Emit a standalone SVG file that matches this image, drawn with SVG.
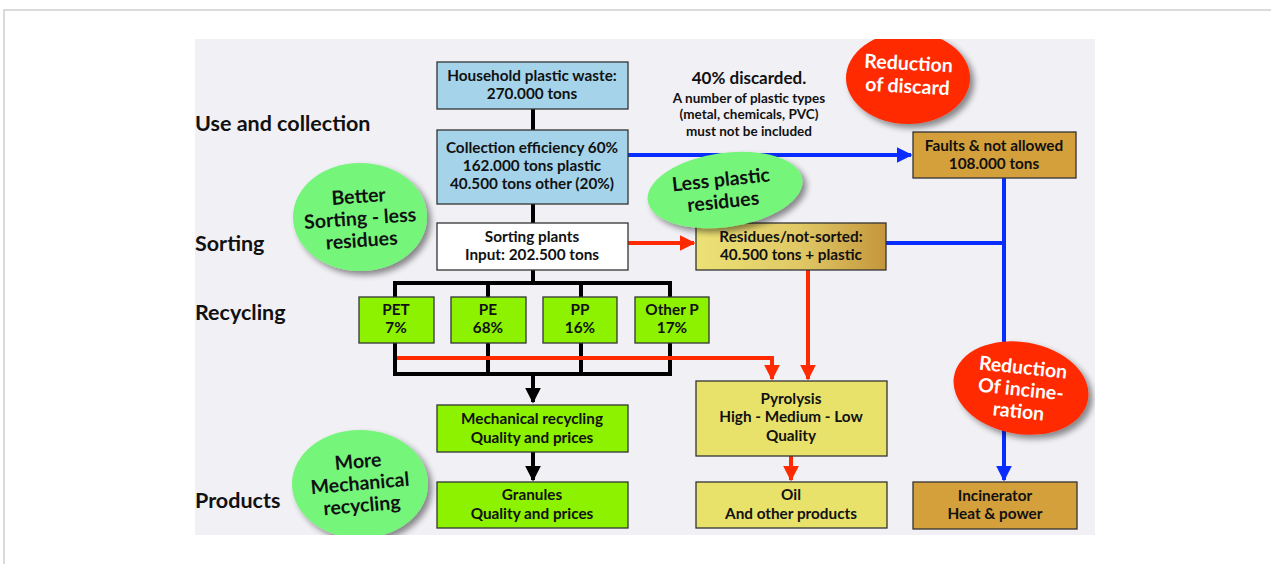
<svg xmlns="http://www.w3.org/2000/svg" width="1271" height="564" viewBox="0 0 1271 564">
<defs>
<style>
.box{stroke:#333;stroke-width:1.3}
.t{font-family:Lato,"Open Sans","Liberation Sans",sans-serif;font-weight:700;fill:#111;text-anchor:middle}
.bt{font-size:15.3px}
.lab{font-family:Lato,"Open Sans","Liberation Sans",sans-serif;font-weight:700;font-size:21.5px;fill:#111}
.blk{stroke:#000;stroke-width:4;fill:none}
.red{stroke:#ff2a00;stroke-width:4;fill:none}
.blu{stroke:#0a2dff;stroke-width:4;fill:none}
.et{font-family:Lato,"Open Sans","Liberation Sans",sans-serif;font-weight:700;font-size:19.5px;text-anchor:middle}
</style>
<linearGradient id="gres" x1="0" x2="1" y1="0" y2="0">
<stop offset="0" stop-color="#ece276"/>
<stop offset="0.55" stop-color="#e0c865"/>
<stop offset="1" stop-color="#c4963c"/>
</linearGradient>
<filter id="sh" x="-30%" y="-30%" width="160%" height="160%">
<feGaussianBlur in="SourceAlpha" stdDeviation="3"/>
<feOffset dx="4" dy="4"/>
<feComponentTransfer><feFuncA type="linear" slope="0.45"/></feComponentTransfer>
<feMerge><feMergeNode/><feMergeNode in="SourceGraphic"/></feMerge>
</filter>
<clipPath id="panel"><rect x="195" y="39" width="900" height="496"/></clipPath>
<marker id="ab" viewBox="0 0 10 10" refX="9" refY="5" markerWidth="4" markerHeight="4" orient="auto" markerUnits="strokeWidth"><path d="M0,0L10,5L0,10z" fill="#000"/></marker>
<marker id="ar" viewBox="0 0 10 10" refX="9" refY="5" markerWidth="4" markerHeight="4" orient="auto" markerUnits="strokeWidth"><path d="M0,0L10,5L0,10z" fill="#ff2a00"/></marker>
<marker id="au" viewBox="0 0 10 10" refX="9" refY="5" markerWidth="4" markerHeight="4" orient="auto" markerUnits="strokeWidth"><path d="M0,0L10,5L0,10z" fill="#0a2dff"/></marker>
</defs>
<rect x="0" y="0" width="1271" height="564" fill="#fff"/>
<path d="M4,564V10H1271" fill="none" stroke="#cfcfcf" stroke-width="1.5"/>
<rect x="195" y="39" width="900" height="496" fill="#f1f0f5"/>

<g id="labels">
<text class="lab" x="195" y="131">Use and collection</text>
<text class="lab" x="195" y="251">Sorting</text>
<text class="lab" x="195" y="320">Recycling</text>
<text class="lab" x="195" y="508">Products</text>
</g>

<g id="connectors">
<path class="blk" d="M533,109V130M533,204V223M533,270V283M395,283H670M395,281V297M488,283V297M581,283V297M670,281V297M395,343V374M488,343V374M581,343V374M670,343V374M393,374H672"/>
<path class="blk" d="M533,374V402" marker-end="url(#ab)"/>
<path class="blk" d="M533,452V480" marker-end="url(#ab)"/>
<path class="red" d="M397,358H772V379" marker-end="url(#ar)"/>
<path class="red" d="M628,243H694" marker-end="url(#ar)"/>
<path class="red" d="M808,270V379" marker-end="url(#ar)"/>
<path class="red" d="M791,456V480" marker-end="url(#ar)"/>
<path class="blu" d="M628,155H911" marker-end="url(#au)"/>
<path class="blu" d="M886,243H1004M1004,178V370"/>
<path class="blu" d="M1004,420V480" marker-end="url(#au)"/>
</g>

<g id="household"><rect class="box" x="437" y="62" width="191" height="47" fill="#a5d4ea"/>
<text class="t bt" x="532" y="81">Household plastic waste:</text><text class="t bt" x="532" y="99">270.000 tons</text></g>
<g id="collection"><rect class="box" x="437" y="130" width="191" height="74" fill="#a5d4ea"/>
<text class="t bt" x="532" y="153">Collection efficiency 60%</text><text class="t bt" x="532" y="171">162.000 tons plastic</text><text class="t bt" x="532" y="189">40.500 tons other (20%)</text></g>
<g id="discard-note">
<text class="t" x="749" y="84" font-size="17px">40% discarded.</text>
<text class="t" x="749" y="103" font-size="13.5px">A number of plastic types</text>
<text class="t" x="749" y="119" font-size="13.5px">(metal, chemicals, PVC)</text>
<text class="t" x="749" y="136" font-size="13.5px">must not be included</text>
</g>
<g id="faults"><rect class="box" x="913" y="132" width="163" height="46" fill="#d4a03b"/>
<text class="t bt" x="994" y="151">Faults &amp; not allowed</text><text class="t bt" x="994" y="169">108.000 tons</text></g>
<g id="sorting"><rect class="box" x="437" y="223" width="191" height="47" fill="#ffffff"/>
<text class="t bt" x="532" y="242">Sorting plants</text><text class="t bt" x="532" y="260">Input: 202.500 tons</text></g>
<g id="residues"><rect class="box" x="696" y="223" width="190" height="47" fill="url(#gres)"/>
<text class="t bt" x="791" y="242">Residues/not-sorted:</text><text class="t bt" x="791" y="260">40.500 tons + plastic</text></g>
<g id="pet"><rect class="box" x="359" y="297" width="75" height="46" fill="#8df200"/>
<text class="t bt" x="396" y="315">PET</text><text class="t bt" x="396" y="333">7%</text></g>
<g id="pe"><rect class="box" x="451" y="297" width="75" height="46" fill="#8df200"/>
<text class="t bt" x="488" y="315">PE</text><text class="t bt" x="488" y="333">68%</text></g>
<g id="pp"><rect class="box" x="543" y="297" width="74" height="46" fill="#8df200"/>
<text class="t bt" x="580" y="315">PP</text><text class="t bt" x="580" y="333">16%</text></g>
<g id="otherp"><rect class="box" x="635" y="297" width="74" height="46" fill="#8df200"/>
<text class="t bt" x="672" y="315">Other P</text><text class="t bt" x="672" y="333">17%</text></g>
<g id="mechanical"><rect class="box" x="437" y="405" width="191" height="47" fill="#8df200"/>
<text class="t bt" x="532" y="424">Mechanical recycling</text><text class="t bt" x="532" y="443">Quality and prices</text></g>
<g id="granules"><rect class="box" x="437" y="482" width="191" height="46" fill="#8df200"/>
<text class="t bt" x="532" y="500">Granules</text><text class="t bt" x="532" y="519">Quality and prices</text></g>
<g id="pyrolysis"><rect class="box" x="696" y="381" width="191" height="75" fill="#e8e26b"/>
<text class="t bt" x="791" y="404">Pyrolysis</text><text class="t bt" x="791" y="422">High - Medium - Low</text><text class="t bt" x="791" y="441">Quality</text></g>
<g id="oil"><rect class="box" x="696" y="482" width="191" height="46" fill="#e8e26b"/>
<text class="t bt" x="791" y="500">Oil</text><text class="t bt" x="791" y="519">And other products</text></g>
<g id="incinerator"><rect class="box" x="913" y="482" width="164" height="47" fill="#d4a03b"/>
<text class="t bt" x="995" y="501">Incinerator</text><text class="t bt" x="995" y="519">Heat &amp; power</text></g>

<g id="bubbles" clip-path="url(#panel)">
<g id="reduction-discard" filter="url(#sh)"><ellipse cx="908" cy="78" rx="62" ry="46" fill="#ff2a00"/></g>
<g transform="rotate(3 908 76)"><text class="et" x="908" y="70" fill="#fff">Reduction</text><text class="et" x="908" y="93" fill="#fff">of discard</text></g>
<g id="better-sorting" filter="url(#sh)"><ellipse cx="360" cy="217" rx="67" ry="54" fill="#74f57a"/></g>
<g transform="rotate(-4 360 217)"><text class="et" x="360" y="203" fill="#111">Better</text><text class="et" x="360" y="225" fill="#111">Sorting - less</text><text class="et" x="360" y="247" fill="#111">residues</text></g>
<g id="less-plastic" filter="url(#sh)"><ellipse cx="725" cy="190" rx="78" ry="37" fill="#74f57a" transform="rotate(-8 725 190)"/></g>
<g transform="rotate(-6 725 190)"><text class="et" x="722" y="186" fill="#111">Less plastic</text><text class="et" x="722" y="208" fill="#111">residues</text></g>
<g id="reduction-incineration" filter="url(#sh)"><ellipse cx="1021" cy="388" rx="68" ry="46" fill="#ff2a00" transform="rotate(10 1021 388)"/></g>
<g transform="rotate(6 1021 388)"><text class="et" x="1021" y="374" fill="#fff">Reduction</text><text class="et" x="1021" y="396" fill="#fff">Of incine-</text><text class="et" x="1021" y="418" fill="#fff">ration</text></g>
<g id="more-mechanical" filter="url(#sh)"><ellipse cx="360" cy="484" rx="68" ry="54" fill="#74f57a"/></g>
<g transform="rotate(-5 360 484)"><text class="et" x="360" y="468" fill="#111">More</text><text class="et" x="360" y="490" fill="#111">Mechanical</text><text class="et" x="360" y="512" fill="#111">recycling</text></g>
</g>
</svg>
